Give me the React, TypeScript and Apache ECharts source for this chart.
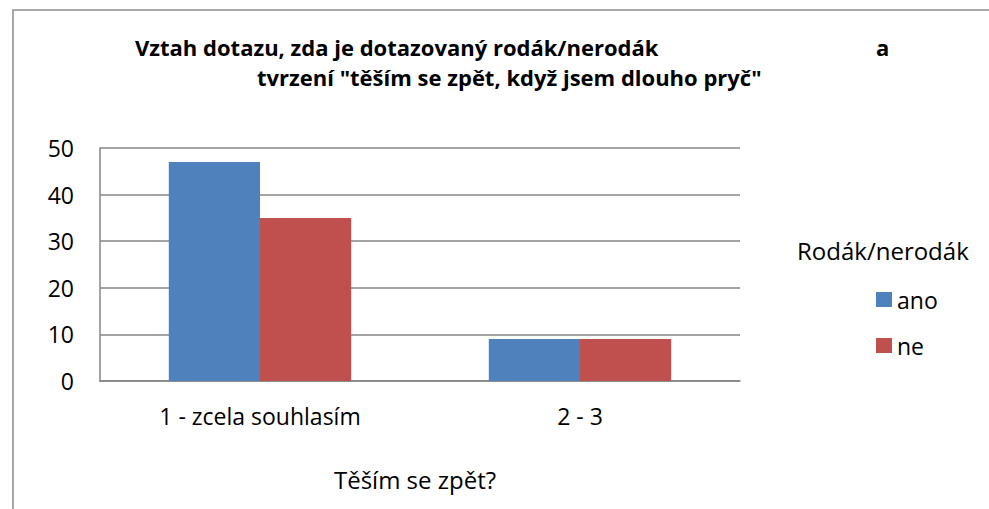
import React, { useEffect, useRef } from "react";
import * as echarts from "echarts";

const categories = ["1 - zcela souhlasím", "2 - 3"];
const seriesNames = ["ano", "ne"];
const anoValues = [47, 9];
const neValues = [35, 9];
const yTicks = { min: 0, max: 50, interval: 10 };
const titleLine1 = "Vztah dotazu, zda je dotazovaný rodák/nerodák";
const titleLine1End = "a";
const titleLine2 = "tvrzení \"těším se zpět, když jsem dlouho pryč\"";
const xAxisTitle = "Těším se zpět?";
const legendTitle = "Rodák/nerodák";

const FONT = "'Open Sans', 'Noto Sans', sans-serif";
const GRID = "#868686";

export default function App() {
  const ref = useRef<HTMLDivElement>(null);
  useEffect(() => {
    if (!ref.current) return;
    const chart = echarts.init(ref.current, undefined, { renderer: "svg" });
    chart.setOption({
      animation: false,
      backgroundColor: "#ffffff",
      textStyle: { fontFamily: FONT },
      grid: { left: 100, right: 249, top: 148, bottom: 128, containLabel: false },
      xAxis: {
        type: "category",
        data: categories,
        axisLine: { show: true, lineStyle: { color: GRID, width: 1.5 } },
        axisTick: { show: false },
        axisLabel: { color: "#000", fontSize: 23, fontFamily: FONT, margin: 23 },
        name: xAxisTitle,
        nameLocation: "middle",
        nameGap: 86,
        nameTextStyle: { color: "#000", fontSize: 24, fontFamily: FONT, padding: [0, 10, 0, 0] },
      },
      yAxis: {
        type: "value",
        min: yTicks.min,
        max: yTicks.max,
        interval: yTicks.interval,
        axisLine: { show: true, lineStyle: { color: GRID, width: 1.5 } },
        axisTick: { show: false },
        axisLabel: { color: "#000", fontSize: 23, fontFamily: FONT, margin: 26 },
        splitLine: { show: true, lineStyle: { color: GRID, width: 1.5 } },
      },
      legend: {
        orient: "vertical",
        left: 876,
        top: 288,
        padding: 0,
        itemWidth: 16,
        itemHeight: 15,
        itemGap: 23,
        icon: "rect",
        data: seriesNames,
        textStyle: { color: "#000", fontSize: 23, fontFamily: FONT },
      },
      series: [
        {
          name: seriesNames[0],
          type: "bar",
          data: anoValues,
          barGap: "0%",
          barCategoryGap: "43%",
          itemStyle: { color: "#4F81BD" },
        },
        {
          name: seriesNames[1],
          type: "bar",
          data: neValues,
          barGap: "0%",
          barCategoryGap: "43%",
          itemStyle: { color: "#C0504D" },
        },
      ],
      graphic: [
        {
          type: "rect",
          shape: { x: 13, y: 10, width: 1100, height: 700 },
          style: { fill: "none", stroke: "#8c8c8c", lineWidth: 1.5 },
          silent: true,
        },
        {
          type: "text",
          style: {
            text: titleLine1,
            x: 135,
            y: 47,
            fill: "#000",
            font: `bold 22px ${FONT}`,
            textAlign: "left",
            textVerticalAlign: "middle",
          },
        },
        {
          type: "text",
          style: {
            text: titleLine1End,
            x: 876,
            y: 47,
            fill: "#000",
            font: `bold 22px ${FONT}`,
            textAlign: "left",
            textVerticalAlign: "middle",
          },
        },
        {
          type: "text",
          style: {
            text: titleLine2,
            x: 257,
            y: 77,
            fill: "#000",
            font: `bold 22px ${FONT}`,
            textAlign: "left",
            textVerticalAlign: "middle",
          },
        },
        {
          type: "text",
          style: {
            text: legendTitle,
            x: 797,
            y: 250,
            fill: "#000",
            font: `24px ${FONT}`,
            textAlign: "left",
            textVerticalAlign: "middle",
          },
        },
      ],
    });
    return () => chart.dispose();
  }, []);
  return (
    <div
      ref={ref}
      style={{ position: "fixed", left: 0, top: 0, width: 989, height: 509 }}
    />
  );
}
